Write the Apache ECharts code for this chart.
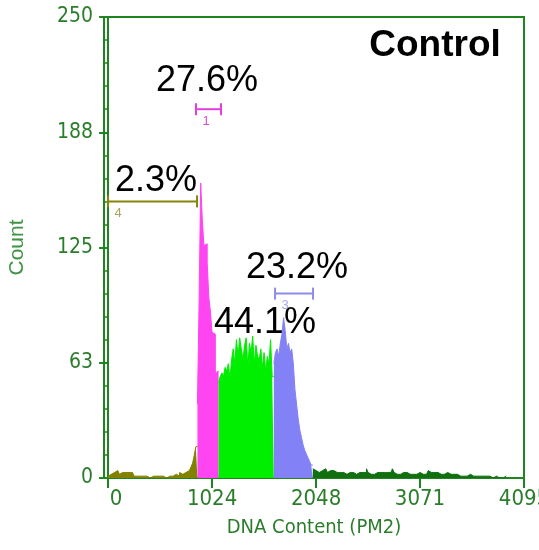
<!DOCTYPE html>
<html>
<head>
<meta charset="utf-8">
<script src="https://cdn.jsdelivr.net/npm/echarts@6/dist/echarts.min.js"></script>
<style>
html,body{margin:0;padding:0;background:#fff;}
#chart{width:539px;height:550px;}
</style>
</head>
<body>
<div id="chart"></div>
<script>
// ---- data ----
const binWidth = 16; // channel width (DNA content units)
const xTickValues = [0, 1024, 2048, 3071, 4095];
const yTickStep = 62.5;
const yMax = 250;

const oliveStart = 0;
const oliveCounts = [1,2,3, 3,2,4,3,2,3,4,3,2,3,2,3,2,
  1,1,2,1,1,1,2,1,1,0,1,1,1,1,2,1,1,1,1,0,1,1,1,1,1,2,1,1,
  3,2,2,3,3,4,5,6,8,12,17];
const pinkStart = 55;
const pinkCounts = [40,95,160,140,126,127,117,98,90,79,78,57,58];
const greenStart = 68;
const greenCounts = [52,55,57,55,60,58,62,54,64,70,62,75,66,76,70,64,72,76,60,73,68,77,62,72,66,64,70,60,68,58,66,62,75,55];
const blueStart = 102;
const blueCounts = [62,68,70,66,73,78,87,80,70,73,68,70,62,48,40,32,26,22,18,15,13,11,9,7];
const darkStart = 126;
const darkCounts = [5,4,5,3,4,4,3,5,4,3,4,3,4,5,3,4,3,4,3,
  3,2,3,3,2,3,4,2,3,3,2,3,2,3,5,3,2,3,2,2,3,2,3,2,3,
  2,3,2,3,4,5,3,2,3,2,2,3,2,3,2,2,3,2,3,2,2,3,2,2,3,2,2,
  4,3,4,3,2,3,2,2,3,2,2,3,2,2,1,2,2,2,1,
  1,2,1,2,1,1,2,1,1,2,1,1,1,0,1,2,1,0,1,
  1,0,0,1,0,0,0,0,1,1];

// gates (markers)
const gateNames = ['1', '3', '4'];
const gateFrom = [866, 1644, 0];
const gateTo = [1112, 2018, 876];
const gateLevel = [200, 100, 150];

// percentage annotations
const pctTexts = ['27.6%', '2.3%', '23.2%', '44.1%'];
const titleText = 'Control';

// ---- build ----
function region(start, counts) {
  const pts = counts.map((c, i) => [(start + i) * binWidth, c]);
  pts.push([(start + counts.length) * binWidth, counts[counts.length - 1]]);
  return pts;
}
function histSeries(name, start, counts, color) {
  return {
    name, type: 'line', step: 'end', symbol: 'none', silent: true,
    data: region(start, counts),
    lineStyle: { color, width: 1 },
    areaStyle: { color, opacity: 1 },
    itemStyle: { color }
  };
}

const green = '#1f851f';
const labelGreen = '#2b7d2b';
const narrow = '"Liberation Sans Narrow", "DejaVu Sans Condensed", "Liberation Sans", sans-serif';
const gateColors = ['#e33fdc', '#8c8cec', '#86860a'];
const gateLabelColors = ['#d94fd2', '#a6a6f2', '#a4a45c'];

const chart = echarts.init(document.getElementById('chart'));
const option = {
  animation: false,
  backgroundColor: '#fff',
  grid: { left: 104, right: 15, top: 17, bottom: 72, show: true, borderColor: green, borderWidth: 2, containLabel: false, outerBoundsMode: 'none' },
  xAxis: {
    type: 'value', min: -40, max: 4095,
    name: 'DNA Content (PM2)', nameLocation: 'middle', nameGap: 40,
    nameTextStyle: { color: labelGreen, fontSize: 20, fontFamily: narrow },
    axisLine: { show: true, lineStyle: { color: green, width: 2 } },
    axisTick: { show: true, customValues: xTickValues, length: 10, lineStyle: { color: green, width: 2 } },
    axisLabel: {
      customValues: xTickValues, margin: 10, color: labelGreen, fontSize: 22, fontFamily: narrow,
      formatter: v => v === 0 ? '{z|0}' : String(v),
      rich: { z: { padding: [0, 0, 0, 16], color: labelGreen, fontSize: 22, fontFamily: narrow } }
    },
    splitLine: { show: false }
  },
  yAxis: {
    type: 'value', min: 0, max: yMax, interval: yTickStep,
    name: 'Count', nameLocation: 'middle', nameGap: 76,
    nameTextStyle: { color: '#3f9342', fontSize: 21, fontFamily: '"Liberation Sans", Arial, sans-serif' },
    axisLine: { show: true, lineStyle: { color: green, width: 2 } },
    axisTick: { show: true, inside: false, length: 9, lineStyle: { color: green, width: 2 } },
    minorTick: { show: true, splitNumber: 5, length: 4, lineStyle: { color: green, width: 1.5 } },
    axisLabel: { margin: 11, color: labelGreen, fontSize: 21, fontFamily: narrow, formatter: v => String(Math.round(v)) },
    splitLine: { show: false }
  },
  series: [
    histSeries('gate4', oliveStart, oliveCounts, '#828200'),
    histSeries('gate1', pinkStart, pinkCounts, '#ff44f2'),
    histSeries('gate2', greenStart, greenCounts, '#00ee00'),
    histSeries('gate3', blueStart, blueCounts, '#8282f6'),
    histSeries('rest', darkStart, darkCounts, '#107010'),
    {
      type: 'custom', silent: true, clip: false,
      data: gateNames.map((n, i) => [gateFrom[i], gateTo[i], gateLevel[i], i]),
      renderItem: function (params, api) {
        const i = api.value(3);
        const p0 = api.coord([api.value(0), api.value(2)]);
        const p1 = api.coord([api.value(1), api.value(2)]);
        const c = gateColors[i];
        const st = { stroke: c, lineWidth: 2 };
        return {
          type: 'group',
          children: [
            { type: 'line', shape: { x1: p0[0], y1: p0[1], x2: p1[0], y2: p1[1] }, style: st },
            { type: 'line', shape: { x1: p0[0], y1: p0[1] - 6, x2: p0[0], y2: p0[1] + 6 }, style: st },
            { type: 'line', shape: { x1: p1[0], y1: p1[1] - 6, x2: p1[0], y2: p1[1] + 6 }, style: st },
            { type: 'text', x: p0[0] + 10, y: p0[1] + 12,
              style: { text: gateNames[i], fill: gateLabelColors[i], font: '13px "Liberation Sans", Arial, sans-serif', align: 'center', verticalAlign: 'middle', textAlign: 'center', textVerticalAlign: 'middle' } }
          ]
        };
      }
    }
  ],
  graphic: [
    { type: 'text', x: 207, y: 81, style: { text: pctTexts[0], fill: '#000', font: '36px "Liberation Sans", Arial, sans-serif', align: 'center', verticalAlign: 'middle', textAlign: 'center', textVerticalAlign: 'middle' } },
    { type: 'text', x: 156, y: 181, style: { text: pctTexts[1], fill: '#000', font: '36px "Liberation Sans", Arial, sans-serif', align: 'center', verticalAlign: 'middle', textAlign: 'center', textVerticalAlign: 'middle' } },
    { type: 'text', x: 297, y: 268, style: { text: pctTexts[2], fill: '#000', font: '36px "Liberation Sans", Arial, sans-serif', align: 'center', verticalAlign: 'middle', textAlign: 'center', textVerticalAlign: 'middle' } },
    { type: 'text', x: 265, y: 323, style: { text: pctTexts[3], fill: '#000', font: '36px "Liberation Sans", Arial, sans-serif', align: 'center', verticalAlign: 'middle', textAlign: 'center', textVerticalAlign: 'middle' } },
    { type: 'text', x: 435, y: 46, style: { text: titleText, fill: '#000', font: 'bold 37px "Liberation Sans", Arial, sans-serif', align: 'center', verticalAlign: 'middle', textAlign: 'center', textVerticalAlign: 'middle' } }
  ]
};
chart.setOption(option);
</script>
</body>
</html>
